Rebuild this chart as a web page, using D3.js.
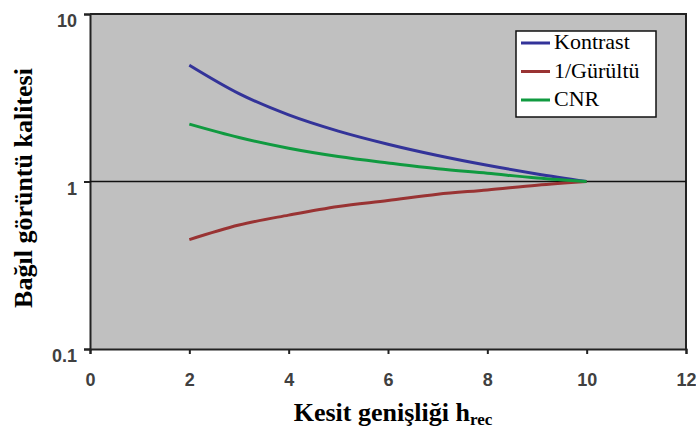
<!DOCTYPE html>
<html>
<head>
<meta charset="utf-8">
<script src="https://cdn.jsdelivr.net/npm/d3@7"></script>
<style>
  body { margin: 0; background: #fff; }
</style>
</head>
<body>
<div id="chart"></div>
<script>
// values
let xValues = [2, 3, 4, 5, 6, 7, 8, 9, 10];
let kontrast = [4.95, 3.35, 2.5, 2.0, 1.67, 1.43, 1.25, 1.11, 1.0];
let gurultu = [0.45, 0.55, 0.63, 0.71, 0.77, 0.84, 0.89, 0.95, 1.0];
let cnr = [2.2, 1.83, 1.58, 1.41, 1.29, 1.19, 1.12, 1.05, 1.0];
let seriesNames = ['Kontrast', '1/Gürültü', 'CNR'];
let seriesColors = ['#333399', '#993333', '#109a40'];
let xTicks = [0, 2, 4, 6, 8, 10, 12];
let yTicks = [0.1, 1, 10];

let serif = "'Liberation Serif', 'Times New Roman', serif",
    sans = "'Liberation Sans', Arial, sans-serif";

function drawChart() {
    let svgWidth = 696,
        svgHeight = 431,
        margin = {top: 14, right: 10, bottom: 82, left: 90},
        plotWidth = svgWidth - margin.left - margin.right,
        plotHeight = svgHeight - margin.top - margin.bottom,
        svg = d3.select('#chart').append('svg')
                .attr('width', svgWidth)
                .attr('height', svgHeight),
        plot = svg.append('g')
                  .attr('transform', `translate(${margin.left}, ${margin.top})`);

    let xScale = d3.scaleLinear().domain([0, 12]).range([0, plotWidth]);
    let yScale = d3.scaleLog().domain([0.1, 10]).range([plotHeight, 0]);

    // gray plot area
    plot.append('rect')
        .attr('width', plotWidth).attr('height', plotHeight)
        .attr('fill', '#c0c0c0');

    // border top and right
    plot.append('path')
        .attr('d', `M0,0H${plotWidth}V${plotHeight}`)
        .attr('fill', 'none').attr('stroke', '#222').attr('stroke-width', 2);

    // axes
    let xAxis = d3.axisBottom(xScale).tickValues(xTicks).tickSize(5).tickPadding(19)
                  .tickFormat(d3.format('d'));
    plot.append('g')
        .attr('transform', `translate(0, ${plotHeight})`)
        .call(xAxis);
    let yAxis = d3.axisLeft(yScale).tickValues(yTicks).tickSize(6).tickPadding(7)
                  .tickFormat(d => d);
    let yAxisGroup = plot.append('g').call(yAxis);
    yAxisGroup.selectAll('.tick text').attr('dy', '0.7em');
    svg.selectAll('path.domain').attr('stroke', '#222').attr('stroke-width', 2);
    svg.selectAll('.tick line').attr('stroke', '#222').attr('stroke-width', 2);
    svg.selectAll('.tick text')
       .attr('font-family', sans).attr('font-size', 18)
       .attr('font-weight', 'bold').attr('fill', '#404040');

    // y = 1 reference line
    plot.append('line')
        .attr('x1', 0).attr('x2', plotWidth)
        .attr('y1', yScale(1)).attr('y2', yScale(1))
        .attr('stroke', '#111').attr('stroke-width', 1.5);

    // series
    let allSeries = [kontrast, gurultu, cnr];
    let line = d3.line()
                 .x((d, i) => xScale(xValues[i]))
                 .y(d => yScale(d))
                 .curve(d3.curveMonotoneX);
    allSeries.forEach((values, i) => {
        plot.append('path')
            .attr('d', line(values))
            .attr('fill', 'none')
            .attr('stroke', seriesColors[i])
            .attr('stroke-width', 3);
    });

    // legend
    let legend = svg.append('g')
                    .attr('transform', 'translate(516, 31)');
    legend.append('rect')
          .attr('width', 140).attr('height', 86)
          .attr('fill', '#fff').attr('stroke', '#111').attr('stroke-width', 1.5);
    seriesNames.forEach((name, i) => {
        let y = 12 + i * 28.5;
        legend.append('line')
              .attr('x1', 5).attr('x2', 34)
              .attr('y1', y).attr('y2', y)
              .attr('stroke', seriesColors[i]).attr('stroke-width', 3);
        legend.append('text')
              .attr('x', 38).attr('y', y + 6)
              .attr('font-family', serif).attr('font-size', 22)
              .attr('fill', '#000')
              .text(name);
    });

    // axis titles
    let xTitle = svg.append('text')
                    .attr('x', 393).attr('y', 421)
                    .attr('text-anchor', 'middle')
                    .attr('font-family', serif).attr('font-weight', 'bold')
                    .attr('font-size', 26);
    xTitle.append('tspan').text('Kesit genişliği h');
    xTitle.append('tspan').text('rec').attr('font-size', 17).attr('dy', 4);

    svg.append('text')
       .attr('transform', 'translate(32, 188) rotate(-90)')
       .attr('text-anchor', 'middle')
       .attr('font-family', serif).attr('font-weight', 'bold')
       .attr('font-size', 26)
       .text('Bağıl görüntü kalitesi');
}

drawChart();
</script>
</body>
</html>
